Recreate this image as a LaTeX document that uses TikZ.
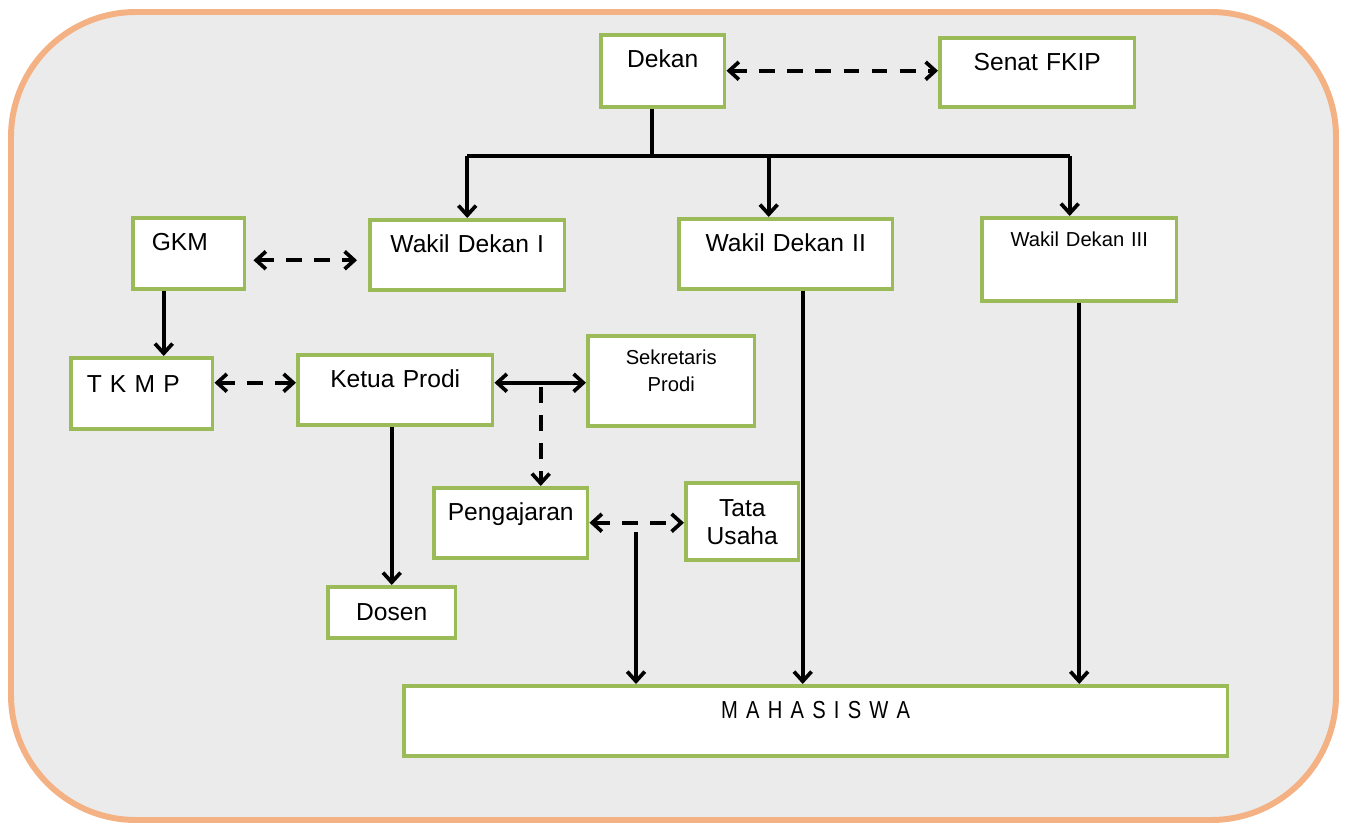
\documentclass[tikz,border=0pt]{standalone}
\usepackage{fontspec}
\setmainfont{Liberation Sans}
\newfontfamily\narrowfont[FakeStretch=0.82,WordSpace=1.9]{Liberation Sans}
\usepackage{tikz}
\usetikzlibrary{arrows.meta,positioning}
\definecolor{boxgreen}{HTML}{9BBB59}
\definecolor{frameorange}{HTML}{F4B183}
\definecolor{framegray}{HTML}{EBEBEB}
\tikzset{
  orgbox/.style = {draw=boxgreen, line width=2pt, fill=white, anchor=north west,
    inner sep=0pt, align=center, text height=0.66cm,
    font=\fontsize{14pt}{16pt}\selectfont},% kotak jabatan
  orgsmall/.style = {orgbox, text height=0.58cm,
    font=\fontsize{11.5pt}{15.3pt}\selectfont},% kotak jabatan, teks kecil
  link/.style = {line width=2.1pt},% garis komando
  dlink/.style = {link, dash pattern=on 9pt off 7pt}% garis koordinasi
}
\begin{document}
\begin{tikzpicture}[x=0.02cm,y=-0.02cm,>={Straight Barb[length=5.5pt,width=10pt]}]
        \useasboundingbox (0,0) rectangle (1347,825);
        \draw [frameorange, fill=framegray, line width=3.4pt, rounded corners=2.5cm] (11,12) rectangle (1336,820);

        \node [orgbox, text width=2.48cm, text depth=0.78cm] (dekan) at (599,33) {Dekan};
        \node [orgbox, text width=3.90cm, text depth=0.72cm] (senat) at (938,36) {Senat FKIP};
        \node [orgbox, align=left, inner xsep=0.38cm, text width=1.48cm, text depth=0.76cm] (gkm) at (131,216) {GKM};
        \node [orgbox, text width=3.90cm, text depth=0.74cm] (wd1) at (368,218) {Wakil Dekan I};
        \node [orgbox, text width=4.28cm, text depth=0.74cm] (wd2) at (677,217) {Wakil Dekan II};
        \node [orgsmall, text width=3.90cm, text depth=1.08cm] (wd3) at (980,216) {Wakil Dekan III};
        \node [orgbox, align=left, inner xsep=0.32cm, text width=2.20cm, text height=0.70cm, text depth=0.72cm] (tkmp) at (69,356) {T K M P};
        \node [orgbox, text width=3.90cm, text depth=0.74cm] (ketua) at (296,353) {Ketua Prodi};
        \node [orgsmall, text width=3.34cm, text depth=1.22cm] (sek) at (586,334) {Sekretaris\\Prodi};
        \node [orgbox, text width=3.08cm, text depth=0.74cm] (peng) at (432,486) {Pengajaran};
        \node [orgbox, text width=2.26cm, text height=0.68cm, text depth=0.86cm] (tata) at (684,481) {Tata\\Usaha};
        \node [orgbox, text width=2.56cm, text height=0.68cm, text depth=0.34cm] (dosen) at (326,585) {Dosen};
        \node [orgbox, text width=16.48cm, text depth=0.74cm] (mhs) at (402,684) {\narrowfont M A H A S I S W A};

        \coordinate (bar) at (652,156);
        \coordinate (wd2in) at ([xshift=-0.34cm]wd2.north);
        \coordinate (wd3in) at ([xshift=-0.19cm]wd3.north);
        \coordinate (wd2out) at ([xshift=0.34cm]wd2.south);
        \coordinate (kpl) at ([yshift=0.14cm]ketua.west);
        \coordinate (kpr) at ([yshift=0.14cm]ketua.east);
        \coordinate (pgtop) at ([xshift=0.6cm]peng.north);
        \coordinate (pgout) at (636,532);

        \draw [dlink,<->] (dekan.east) -- (dekan.east -| senat.west);
        \draw [link] (dekan.south -| bar) -- (bar);
        \draw [link] (bar -| wd1.north) -- (bar -| wd3in);
        \draw [link,->] (bar -| wd1.north) -- (wd1.north);
        \draw [link,->] (bar -| wd2in) -- (wd2in);
        \draw [link,->] (bar -| wd3in) -- (wd3in);

        \draw [dlink,<->,shorten <=0.14cm,shorten >=0.22cm] ([yshift=-0.14cm]gkm.east) -- ([yshift=-0.14cm]gkm.east -| wd1.west);
        \draw [link,->] ([xshift=-0.5cm]gkm.south) -- ([xshift=-0.5cm]gkm.south |- tkmp.north);
        \draw [dlink,<->] (kpl -| tkmp.east) -- (kpl);
        \draw [link,<->] (kpr) -- (kpr -| sek.west);
        \draw [dlink,->] ([yshift=-0.08cm]kpr -| pgtop) -- (pgtop);
        \draw [dlink,<->] (peng.east) -- (peng.east -| tata.west);
        \draw [link,->] (ketua.south -| dosen.north) -- (dosen.north);

        \draw [link,->] (pgout) -- (pgout |- mhs.north);
        \draw [link,->] (wd2out) -- (wd2out |- mhs.north);
        \draw [link,->] (wd3.south) -- (wd3.south |- mhs.north);

        \end{tikzpicture}
\end{document}
